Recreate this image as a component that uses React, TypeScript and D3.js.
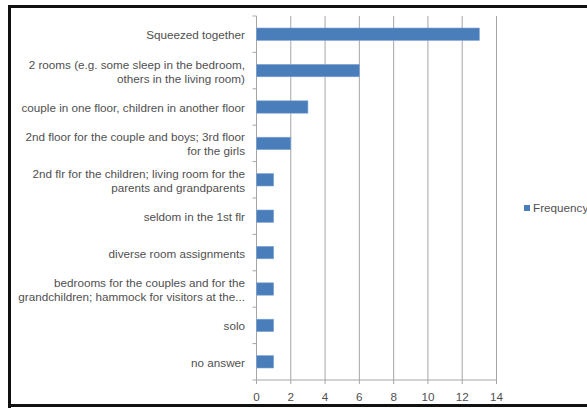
import React from "react";
import * as d3 from "d3";

const categories: string[][] = [
  ["Squeezed together"],
  ["2 rooms (e.g. some sleep in the bedroom,", "others in the living room)"],
  ["couple in one floor, children in another floor"],
  ["2nd floor for the couple and boys; 3rd floor", "for the girls"],
  ["2nd flr for the children; living room for the", "parents and grandparents"],
  ["seldom in the 1st flr"],
  ["diverse room assignments"],
  ["bedrooms for the couples and for the", "grandchildren; hammock for visitors at the..."],
  ["solo"],
  ["no answer"],
];
const frequency: number[] = [13, 6, 3, 2, 1, 1, 1, 1, 1, 1];
const xTicks: number[] = [0, 2, 4, 6, 8, 10, 12, 14];
const seriesName = "Frequency";

export default function App() {
  const W = 587, H = 409;
  const x = d3.scaleLinear().domain([0, 14]).range([256.5, 496.5]);
  const ids = categories.map((_, i) => String(i));
  const y = d3.scaleBand().domain(ids).range([16, 380]).paddingInner(0.66).paddingOuter(0.33);
  const yb = d3.scaleBand().domain(ids).range([16, 380]);
  const font = "'Liberation Sans', Arial, sans-serif";
  const txt = "#505050";
  const grid = "#a6a6a6";
  const fs = 11.7;
  return (
    <div style={{ position: "fixed", left: 0, top: 0, width: W, height: H, background: "#fff" }}>
      <svg width={W} height={H} style={{ display: "block" }}>
        <rect x={0} y={0} width={W} height={H} fill="#fff" />
        {/* frame */}
        <rect x={8} y={5} width={W - 8} height={3} fill="#111" />
        <rect x={8} y={5} width={3} height={403} fill="#111" />
        <rect x={8} y={404} width={W - 8} height={3} fill="#111" />
        {/* gridlines */}
        {xTicks.slice(1).map((t) => (
          <line key={"g" + t} x1={x(t)} x2={x(t)} y1={16} y2={380} stroke={grid} strokeWidth={1} />
        ))}
        {/* left axis */}
        <line x1={x(0)} x2={x(0)} y1={16} y2={380} stroke={grid} />
        {ids.map((id) => (
          <line key={"lt" + id} x1={x(0) - 4} x2={x(0)} y1={yb(id)!} y2={yb(id)!} stroke={grid} />
        ))}
        <line x1={x(0) - 4} x2={x(0)} y1={380} y2={380} stroke={grid} />
        {/* bottom axis */}
        <line x1={x(0)} x2={x(14)} y1={380} y2={380} stroke={grid} />
        {xTicks.map((t) => (
          <g key={"bt" + t}>
            <line x1={x(t)} x2={x(t)} y1={380} y2={384} stroke={grid} />
            <text x={x(t)} y={397} dy="0.35em" textAnchor="middle" fontFamily={font} fontSize={fs} fill={txt}>
              {t}
            </text>
          </g>
        ))}
        {/* bars */}
        {frequency.map((v, i) => (
          <rect
            key={"b" + i}
            x={x(0)}
            y={y(String(i))!}
            width={x(v) - x(0)}
            height={y.bandwidth()}
            fill="#4a7ebb"
            stroke="#7fa3d3"
            strokeWidth={0.6}
          />
        ))}
        {/* category labels */}
        {categories.map((lines, i) => {
          const cy = yb(String(i))! + yb.bandwidth() / 2 + 1;
          const lh = 14;
          const y0 = cy - ((lines.length - 1) * lh) / 2;
          return (
            <text key={"c" + i} textAnchor="end" fontFamily={font} fontSize={fs} fill={txt}>
              {lines.map((l, j) => (
                <tspan key={j} x={245} y={y0 + j * lh} dy="0.35em">
                  {l}
                </tspan>
              ))}
            </text>
          );
        })}
        {/* legend */}
        <rect x={524} y={205} width={6} height={6} fill="#4a7ebb" />
        <text x={533} y={208} dy="0.35em" fontFamily={font} fontSize={fs} fill={txt}>
          {seriesName}
        </text>
      </svg>
    </div>
  );
}
